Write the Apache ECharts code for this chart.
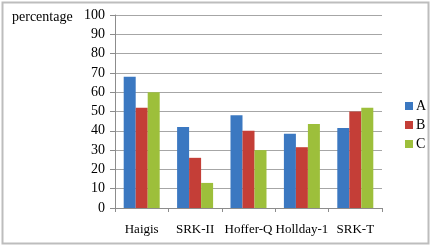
<!DOCTYPE html>
<html>
<head>
<meta charset="utf-8">
<script src="https://cdn.jsdelivr.net/npm/echarts@6/dist/echarts.min.js"></script>
<style>
  html, body { margin: 0; padding: 0; background: #fff; }
  #chart { width: 432px; height: 249px; }
</style>
</head>
<body>
<div id="chart"></div>
<script>
const categories = ['Haigis', 'SRK-II', 'Hoffer-Q', 'Hollday-1', 'SRK-T'];
const seriesA = [68, 42, 48, 38.5, 41.5];
const seriesB = [52, 26, 40, 31.5, 50];
const seriesC = [60, 13, 30, 43.5, 52];
const yTicks = [0, 100, 10];

const font = 'Liberation Serif, Times New Roman, serif';
const chart = echarts.init(document.getElementById('chart'));

const bar = (name, data, color) => ({
    name: name,
    type: 'bar',
    data: data,
    barWidth: 12,
    barGap: '0%',
    itemStyle: {color: color}
});

chart.setOption({
    animation: false,
    graphic: [{
        type: 'rect',
        shape: {x: 2.5, y: 2.5, width: 426, height: 241},
        style: {fill: 'none', stroke: '#bdbdbd', lineWidth: 2}
    }, {
        type: 'text',
        left: 12,
        top: 10,
        style: {text: 'percentage', font: '14px ' + font, fill: '#000'}
    }],
    legend: {
        orient: 'vertical',
        left: 400,
        top: 94,
        itemWidth: 8,
        itemHeight: 8,
        itemGap: 5,
        icon: 'rect',
        textStyle: {fontFamily: font, fontSize: 14, color: '#000', padding: [0, 0, 0, -2]},
        data: ['A', 'B', 'C']
    },
    grid: {left: 115, top: 15, width: 267, height: 193, containLabel: false},
    xAxis: {
        type: 'category',
        data: categories,
        axisLine: {lineStyle: {color: '#8c8c8c', width: 1}},
        axisTick: {show: true, length: 4, lineStyle: {color: '#8c8c8c'}},
        axisLabel: {fontFamily: font, fontSize: 13, color: '#000', margin: 15, interval: 0}
    },
    yAxis: {
        type: 'value',
        min: yTicks[0],
        max: yTicks[1],
        interval: yTicks[2],
        axisLine: {show: true, lineStyle: {color: '#8c8c8c', width: 1}},
        axisTick: {show: true, length: 5, lineStyle: {color: '#8c8c8c'}},
        axisLabel: {fontFamily: font, fontSize: 14, color: '#000', margin: 10},
        splitLine: {lineStyle: {color: '#a6a6a6', width: 1}}
    },
    series: [
        bar('A', seriesA, '#3b78c1'),
        bar('B', seriesB, '#c43e37'),
        bar('C', seriesC, '#9dbf3b')
    ]
});
</script>
</body>
</html>
